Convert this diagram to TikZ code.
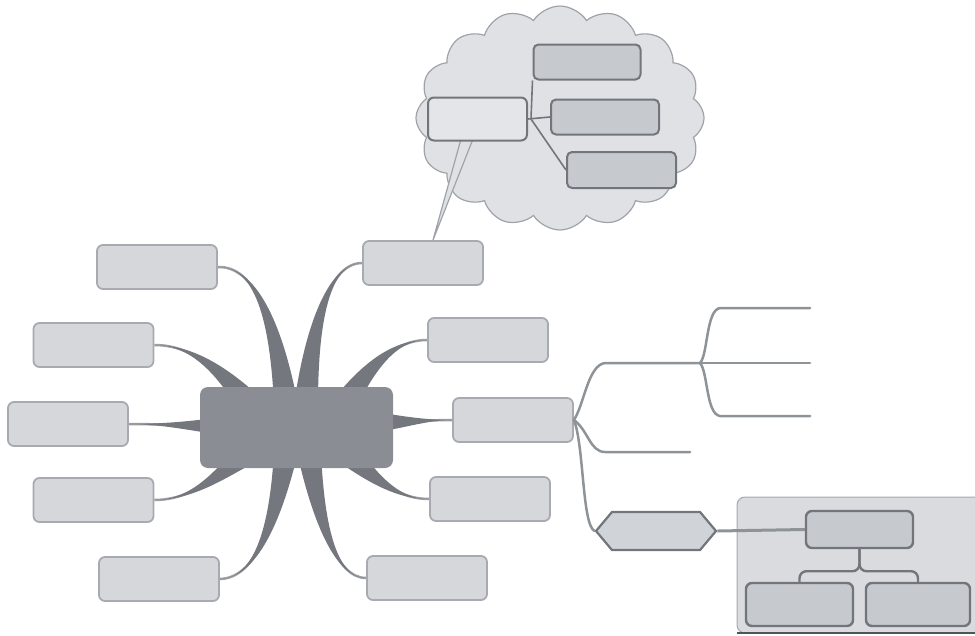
\documentclass[tikz,border=0pt]{standalone}
\usetikzlibrary{shapes.symbols,shapes.geometric,calc}
\pgfdeclarelayer{bg}
\pgfsetlayers{bg,main}
\definecolor{boxfill}{HTML}{D5D7DB}
\definecolor{boxdraw}{HTML}{A7ABB1}
\definecolor{centerfill}{HTML}{8A8D93}
\definecolor{branchcol}{HTML}{74777D}
\definecolor{cloudfill}{HTML}{DFE1E4}
\definecolor{clouddraw}{HTML}{9FA3A9}
\definecolor{cboxfill}{HTML}{C6C9CE}
\definecolor{cboxdraw}{HTML}{72767C}
\definecolor{aboxfill}{HTML}{E3E5E8}
\definecolor{treecol}{HTML}{8E9398}
\definecolor{hexfill}{HTML}{D0D3D7}
\definecolor{panelfill}{HTML}{D9DBDE}
\definecolor{paneldraw}{HTML}{A5A9AE}
\newcommand\taper[5]{%
  \draw[branchcol!70!white, line width=2.5pt] (#1) .. controls (#2) and (#3) .. (#4);
  \fill[branchcol] ($(#4)+(#5)$) .. controls ($(#3)+0.5*(#5)$) and (#2) .. (#1)
    .. controls (#2) and ($(#3)-0.5*(#5)$) .. ($(#4)-(#5)$) -- cycle;
}
\begin{document}
\begin{tikzpicture}[x=1pt,y=-1pt,
  topic/.style={draw=boxdraw, fill=boxfill, line width=1.8pt, rounded corners=6pt,
    minimum width=120pt, minimum height=44pt, inner sep=0pt},
  centre/.style={fill=centerfill, rounded corners=8pt, minimum width=193pt,
    minimum height=81pt, inner sep=0pt},
  cbox/.style={draw=cboxdraw, fill=cboxfill, line width=2pt, rounded corners=5pt, inner sep=0pt},
  abox/.style={draw=cboxdraw, fill=aboxfill, line width=2pt, rounded corners=6pt, inner sep=0pt},
  cline/.style={draw=cboxdraw, line width=1.6pt},
  treeline/.style={draw=treecol, line width=2.5pt, line cap=round},
  hexbox/.style={signal, signal to=east and west, signal pointer angle=100,
    draw=cboxdraw, fill=hexfill, line width=2.2pt, minimum width=120pt,
    minimum height=38pt, inner sep=0pt},
  orgbox/.style={draw=cboxdraw, fill=cboxfill, line width=2.4pt, rounded corners=6pt, inner sep=0pt},
  orgline/.style={draw=cboxdraw, line width=2.4pt},
]
\useasboundingbox (0,0) rectangle (975,635);

% ---- cloud callout ----
\node[cloud, cloud puffs=16, cloud puff arc=115, cloud ignores aspect,
  minimum width=288pt, minimum height=224pt, fill=cloudfill, draw=clouddraw,
  line width=1.2pt] (cloud) at (560,118) {};

% ---- central topic and main topics ----
\node[centre] (c) at (296.5,427.5) {};
\node[topic] (b1) at (157,267) {};
\node[topic] (b2) at (93.5,345) {};
\node[topic] (b3) at (68,424) {};
\node[topic] (b4) at (93.5,500) {};
\node[topic] (b5) at (159,579) {};
\node[topic] (r1) at (423,263) {};
\node[topic] (r2) at (488,340) {};
\node[topic] (r3) at (513,420) {};
\node[topic] (r4) at (490,499) {};
\node[topic] (r5) at (427,578) {};

% callout tail
\coordinate (tip) at ($(r1.north)+(10,0)$);
\filldraw[fill=cloudfill, draw=clouddraw, line width=1.2pt] (461,139) -- (tip) -- (473,139);

% cloud content
\node[abox, minimum width=99pt, minimum height=43pt] (a) at (477.5,119) {};
\node[cbox, minimum width=107pt, minimum height=35pt] (c1) at (587,62) {};
\node[cbox, minimum width=108pt, minimum height=35pt] (c2) at (605,117) {};
\node[cbox, minimum width=109pt, minimum height=36pt] (c3) at (621.5,170) {};
\coordinate (aj) at ($(a.east)+(3,0)$);
\draw[cline] (a.east) -- (c2.west);
\draw[cline] (aj) -- (c1.south west);
\draw[cline] (aj) -- (c3.west);

% ---- tapered branches ----
\begin{pgfonlayer}{bg}
\taper{b1.east}{255,266}{276,320}{286,405}{12,0}
\taper{b2.east}{195,345}{225,375}{252,408}{-7,12}
\taper{b3.east}{160,424}{190,426}{222,426}{0,9}
\taper{b4.east}{195,500}{225,470}{252,448}{7,12}
\taper{b5.east}{257,578}{276,520}{286,452}{12,0}
\taper{r1.west}{330,263}{312,320}{306,405}{12,0}
\taper{r2.west}{395,340}{370,365}{343,408}{7,12}
\taper{r3.west}{430,420}{410,422}{383,422}{0,9}
\taper{r4.west}{395,499}{370,475}{343,448}{-7,12}
\taper{r5.west}{335,578}{318,520}{309,452}{12,0}
\end{pgfonlayer}

% ---- right-hand tree ----
\coordinate (j1) at (700,363);
\coordinate (t1) at (810,308);
\coordinate (t2) at (810,363);
\coordinate (t3) at (810,416);
\coordinate (t4) at (690,452);
\node[hexbox] (hex) at (656,531) {};
\draw[treeline] (r3.east) .. controls (584,405) and (588,365) .. (605,363) -- (j1);
\draw[treeline] (j1) .. controls (708,355) and (706,310) .. (720,308) -- (t1);
\draw[treeline] (j1) -- (t2);
\draw[treeline] (j1) .. controls (708,372) and (706,414) .. (720,416) -- (t3);
\draw[treeline] (r3.east) .. controls (588,430) and (590,452) .. (605,452) -- (t4);
\draw[treeline] (r3.east) .. controls (584,445) and (582,525) .. (hex.west);

% ---- org chart panel ----
\fill[panelfill, rounded corners=8pt] (737,497) rectangle (990,633);
\draw[paneldraw, line width=1pt, rounded corners=8pt] (990,497) -- (737,497) -- (737,633) -- (990,633);
\draw[cboxdraw!70!black, line width=1.5pt] (737,633) -- (975,633);
\node[orgbox, minimum width=107pt, minimum height=37pt] (otop) at (859.5,529.5) {};
\node[orgbox, minimum width=107pt, minimum height=43pt] (obl) at (799.5,604.5) {};
\node[orgbox, minimum width=104pt, minimum height=43pt] (obr) at (918,604.5) {};
\draw[orgline, draw=treecol, line width=3pt] (hex.east) -- (otop.west);
\draw[orgline, rounded corners=7pt] (otop.south) -- ++(0,22) -| (obl.north);
\draw[orgline, rounded corners=7pt] (otop.south) -- ++(0,22) -| (obr.north);
\end{tikzpicture}
\end{document}
